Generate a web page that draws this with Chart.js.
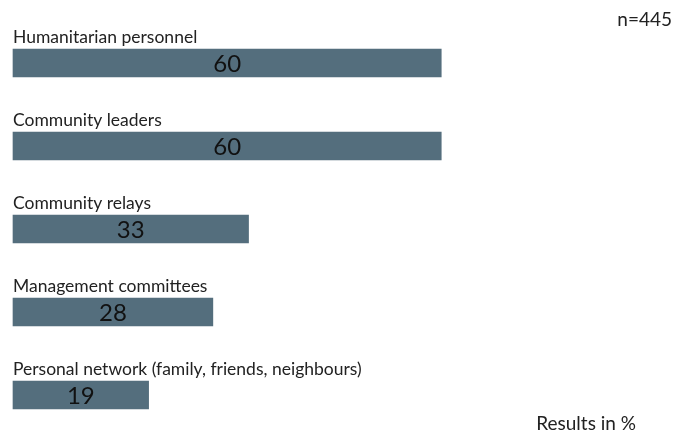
<!DOCTYPE html>
<html lang="en">
<head>
  <meta charset="UTF-8">
  <title>Trusted sources</title>
  <script src="https://cdn.jsdelivr.net/npm/chart.js"></script>
  <style>
    body {
      margin: 0;
      background: #ffffff;
    }
    .wrap {
      position: relative;
      width: 686px;
      height: 434px;
    }
  </style>
</head>
<body>
  <div class="wrap">
    <canvas id="sourceChart" width="686" height="434"></canvas>
  </div>

  <script>
    const categories = [
      'Humanitarian personnel',
      'Community leaders',
      'Community relays',
      'Management committees',
      'Personal network (family, friends, neighbours)'
    ];
    const values = [60, 60, 33, 28, 19];
    const sampleNote = 'n=445';
    const unitNote = 'Results in %';

    const FONT = 'Lato, "Open Sans", sans-serif';

    // labels above each bar, value in the middle of the bar, plus the two notes
    const barText = {
      id: 'barText',
      afterDatasetsDraw(chart) {
        const ctx = chart.ctx;
        const meta = chart.getDatasetMeta(0);
        ctx.save();
        meta.data.forEach((bar, i) => {
          const top = bar.y - bar.height / 2;
          ctx.fillStyle = '#222';
          ctx.font = '17.5px ' + FONT;
          ctx.textAlign = 'left';
          ctx.textBaseline = 'alphabetic';
          ctx.fillText(categories[i], chart.chartArea.left, top - 6);

          ctx.font = '24px ' + FONT;
          ctx.textAlign = 'center';
          ctx.textBaseline = 'middle';
          ctx.fillStyle = '#111';
          ctx.fillText(values[i], (bar.base + bar.x) / 2, bar.y + 1);
        });
        ctx.font = '19px ' + FONT;
        ctx.fillStyle = '#222';
        ctx.textAlign = 'right';
        ctx.textBaseline = 'middle';
        ctx.fillText(sampleNote, 672, 20);
        ctx.fillText(unitNote, 636, 424);
        ctx.restore();
      }
    };

    new Chart(document.getElementById('sourceChart'), {
      type: 'bar',
      data: {
        labels: categories,
        datasets: [{
          data: values,
          backgroundColor: '#546e7d',
          barThickness: 28,
          clip: false
        }]
      },
      options: {
        indexAxis: 'y',
        responsive: false,
        animation: false,
        layout: {
          padding: { left: 13, right: 102, top: 63, bottom: 39 }
        },
        scales: {
          x: { display: false, min: 0, max: 80 },
          y: { display: false, offset: false }
        },
        plugins: {
          legend: { display: false },
          tooltip: { enabled: false }
        }
      },
      plugins: [barText]
    });
  </script>
</body>
</html>
